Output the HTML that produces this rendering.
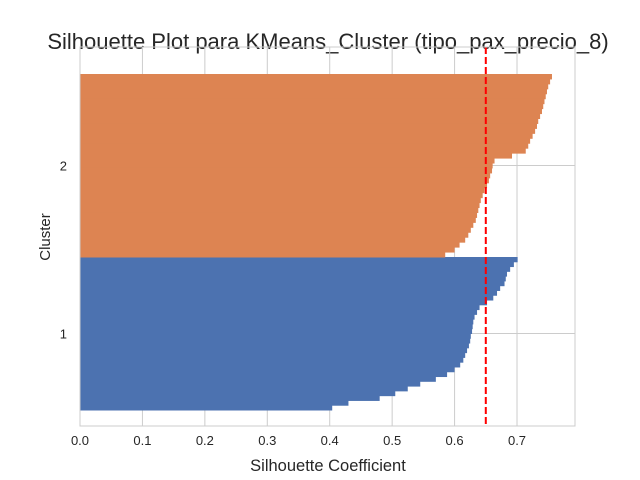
<!DOCTYPE html>
<html><head><meta charset="utf-8"><style>
html,body{margin:0;padding:0;background:#fff;}
svg{display:block;font-family:"Liberation Sans",Arial,sans-serif;}
</style></head><body>
<svg id="chart" width="640" height="480" viewBox="0 0 640 480">
<text x="328" y="49" text-anchor="middle" font-size="22" fill="#262626">Silhouette Plot para KMeans_Cluster (tipo_pax_precio_8)</text>
<g id="grid"></g><g id="bars"></g><g id="axes"></g>
<text x="328" y="471" text-anchor="middle" font-size="16.5" fill="#262626">Silhouette Coefficient</text>
<text transform="translate(50,237) rotate(-90)" text-anchor="middle" font-size="15" fill="#262626">Cluster</text>
</svg>
<script>
const clusterLabels = ["1", "2"];
const clusterSizes = [153, 183];
const cluster1Values = [0.701,0.695,0.689,0.684,0.682,0.680,0.673,0.668,0.662,0.652,0.640,0.636,0.632,0.630,0.629,0.628,0.626,0.625,0.623,0.620,0.617,0.614,0.609,0.600,0.588,0.570,0.545,0.525,0.505,0.480,0.430,0.404];
const cluster2Values = [0.756,0.753,0.750,0.748,0.746,0.744,0.742,0.740,0.737,0.734,0.732,0.729,0.725,0.721,0.718,0.714,0.692,0.664,0.661,0.660,0.657,0.655,0.652,0.648,0.645,0.642,0.640,0.638,0.636,0.634,0.630,0.626,0.622,0.617,0.608,0.600,0.585];
const meanSilhouette = 0.65;
const xTicks = [0.0,0.1,0.2,0.3,0.4,0.5,0.6,0.7];

const NS="http://www.w3.org/2000/svg";
const L=80,R=575,T=47,B=426;
const xMin=0,xMax=(R-L)/624.3;
const yMin=-16,yMax=363;
const xs=v=>L+(v-xMin)/(xMax-xMin)*(R-L);
const ys=v=>B-(v-yMin)/(yMax-yMin)*(B-T);
function mk(tag,attrs,parent){const e=document.createElementNS(NS,tag);for(const k in attrs)e.setAttribute(k,attrs[k]);parent.appendChild(e);return e;}
const grid=document.getElementById('grid'),bars=document.getElementById('bars'),axes=document.getElementById('axes');
const all=[cluster1Values,cluster2Values];
const colors=["#4c72b0","#dd8452"];
xTicks.forEach(t=>{
  const l=mk('line',{x1:xs(t),x2:xs(t),y1:T,y2:B,stroke:'#cccccc','stroke-width':1},grid);
  
  
  const tx=mk('text',{x:xs(t),y:B+19,'text-anchor':'middle','font-size':13,fill:'#262626'},axes);
  tx.textContent=t.toFixed(1);
  
  
});
let start=0;
all.forEach((vals,ci)=>{
  const n=clusterSizes[ci],h=n/vals.length;
  const mid=start+n/2;
  const gl=mk('line',{x1:L,x2:R,y1:ys(mid),y2:ys(mid),stroke:'#cccccc','stroke-width':1},grid);
  
  
  const tl=mk('text',{x:L-13,y:ys(mid)+5,'text-anchor':'end','font-size':13,fill:'#262626'},axes);
  tl.textContent=clusterLabels[ci];
  
  
  const top=start+n;
  vals.forEach((v,i)=>{
    const y0=top-i*h,y1=top-(i+1)*h;
    const r=mk('rect',{x:xs(0),y:ys(y0),width:xs(v)-xs(0),height:ys(y1)-ys(y0)+0.5,fill:colors[ci]},bars);
    
    
  });
  start+=n;
});
const ml=mk('line',{x1:xs(meanSilhouette),x2:xs(meanSilhouette),y1:T,y2:B,stroke:'#ff0000','stroke-width':2,'stroke-dasharray':'7,3'},axes);


const fr=mk('rect',{x:L,y:T,width:R-L,height:B-T,fill:'none',stroke:'#cccccc','stroke-width':1},axes);


</script>
</body></html>
